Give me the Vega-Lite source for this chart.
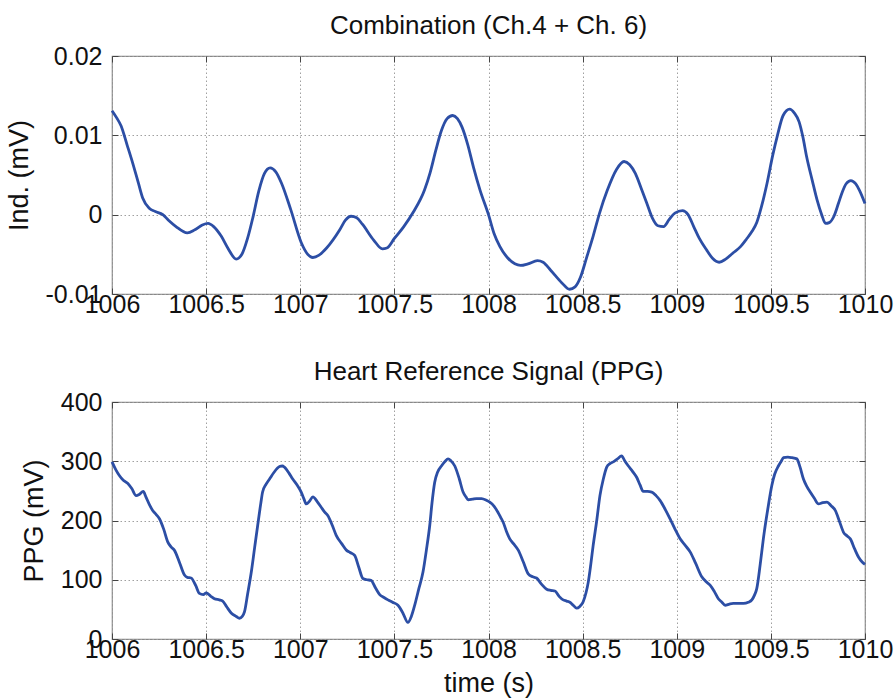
{
  "$schema": "https://vega.github.io/schema/vega-lite/v6.json",
  "background": "white",
  "padding": {"left": 4, "top": 12, "right": 3, "bottom": 3},
  "spacing": 40,
  "config": {
    "font": "Liberation Sans",
    "view": {"stroke": "#888888", "strokeWidth": 1.2},
    "axis": {
      "labelFont": "Liberation Sans", "labelFontSize": 25, "labelColor": "#111111",
      "titleFont": "Liberation Sans", "titleFontSize": 27, "titleFontWeight": "normal", "titleColor": "#111111",
      "grid": true, "gridColor": "#a0a0a0", "gridDash": [1.5, 2.5], "gridWidth": 1,
      "domain": false, "tickColor": "#444444", "tickSize": -6, "tickWidth": 1,
      "labelFlush": false, "labelOverlap": false
    },
    "axisX": {"labelPadding": 4, "titlePadding": 8},
    "axisY": {"labelPadding": 16, "titlePadding": 12},
    "title": {"font": "Liberation Sans", "fontSize": 26, "fontWeight": "normal", "color": "#111111", "baseline": "alphabetic", "offset": 5, "anchor": "middle", "frame": "group"}
  },
  "datasets": {
    "ind": [
      {"t": 1006.000, "v": 0.0131}, {"t": 1006.025, "v": 0.0122}, {"t": 1006.048, "v": 0.0112}, {"t": 1006.08, "v": 0.0088},
      {"t": 1006.11, "v": 0.0065}, {"t": 1006.14, "v": 0.0040}, {"t": 1006.163, "v": 0.0021}, {"t": 1006.198, "v": 0.0008},
      {"t": 1006.23, "v": 0.0004}, {"t": 1006.27, "v": 0.0000}, {"t": 1006.30, "v": -0.0007}, {"t": 1006.34, "v": -0.0015},
      {"t": 1006.40, "v": -0.0023}, {"t": 1006.44, "v": -0.0019}, {"t": 1006.48, "v": -0.0013}, {"t": 1006.51, "v": -0.0011},
      {"t": 1006.54, "v": -0.0015}, {"t": 1006.58, "v": -0.0027}, {"t": 1006.615, "v": -0.0042}, {"t": 1006.66, "v": -0.0056},
      {"t": 1006.69, "v": -0.0050}, {"t": 1006.72, "v": -0.0030}, {"t": 1006.748, "v": -0.0004}, {"t": 1006.78, "v": 0.0030},
      {"t": 1006.81, "v": 0.0052}, {"t": 1006.84, "v": 0.0059}, {"t": 1006.87, "v": 0.0054}, {"t": 1006.90, "v": 0.0040},
      {"t": 1006.95, "v": 0.0006}, {"t": 1007.005, "v": -0.0035}, {"t": 1007.04, "v": -0.0050}, {"t": 1007.067, "v": -0.0054},
      {"t": 1007.10, "v": -0.0051}, {"t": 1007.14, "v": -0.0042}, {"t": 1007.21, "v": -0.0019}, {"t": 1007.24, "v": -0.0007},
      {"t": 1007.27, "v": -0.0002}, {"t": 1007.30, "v": -0.0004}, {"t": 1007.33, "v": -0.0012}, {"t": 1007.39, "v": -0.0032},
      {"t": 1007.436, "v": -0.0043}, {"t": 1007.46, "v": -0.0042}, {"t": 1007.50, "v": -0.0030}, {"t": 1007.55, "v": -0.0015},
      {"t": 1007.60, "v": 0.0003}, {"t": 1007.66, "v": 0.0031}, {"t": 1007.69, "v": 0.0053}, {"t": 1007.72, "v": 0.0081},
      {"t": 1007.75, "v": 0.0106}, {"t": 1007.78, "v": 0.0121}, {"t": 1007.81, "v": 0.0125}, {"t": 1007.835, "v": 0.0121},
      {"t": 1007.86, "v": 0.0110}, {"t": 1007.89, "v": 0.0088}, {"t": 1007.92, "v": 0.0060}, {"t": 1007.955, "v": 0.0031},
      {"t": 1008.00, "v": 0.0000}, {"t": 1008.03, "v": -0.0024}, {"t": 1008.06, "v": -0.0040}, {"t": 1008.10, "v": -0.0054},
      {"t": 1008.14, "v": -0.0062}, {"t": 1008.17, "v": -0.0064}, {"t": 1008.21, "v": -0.0062}, {"t": 1008.26, "v": -0.0058},
      {"t": 1008.29, "v": -0.0060}, {"t": 1008.33, "v": -0.0070}, {"t": 1008.39, "v": -0.0086}, {"t": 1008.43, "v": -0.0094},
      {"t": 1008.46, "v": -0.0091}, {"t": 1008.49, "v": -0.0078}, {"t": 1008.52, "v": -0.0055}, {"t": 1008.556, "v": -0.0027},
      {"t": 1008.59, "v": 0.0002}, {"t": 1008.63, "v": 0.0030}, {"t": 1008.68, "v": 0.0057}, {"t": 1008.72, "v": 0.0067},
      {"t": 1008.75, "v": 0.0063}, {"t": 1008.78, "v": 0.0052}, {"t": 1008.81, "v": 0.0034}, {"t": 1008.84, "v": 0.0015},
      {"t": 1008.87, "v": -0.0004}, {"t": 1008.90, "v": -0.0014}, {"t": 1008.93, "v": -0.0015}, {"t": 1008.96, "v": -0.0006},
      {"t": 1008.99, "v": 0.0002}, {"t": 1009.03, "v": 0.0005}, {"t": 1009.06, "v": 0.0000}, {"t": 1009.09, "v": -0.0015},
      {"t": 1009.12, "v": -0.0030}, {"t": 1009.16, "v": -0.0045}, {"t": 1009.19, "v": -0.0055}, {"t": 1009.225, "v": -0.0060},
      {"t": 1009.26, "v": -0.0056}, {"t": 1009.30, "v": -0.0048}, {"t": 1009.34, "v": -0.0040}, {"t": 1009.37, "v": -0.0031},
      {"t": 1009.40, "v": -0.0021}, {"t": 1009.425, "v": -0.0010}, {"t": 1009.45, "v": 0.0010}, {"t": 1009.48, "v": 0.0040},
      {"t": 1009.51, "v": 0.0075}, {"t": 1009.535, "v": 0.0100}, {"t": 1009.565, "v": 0.0125}, {"t": 1009.60, "v": 0.0133},
      {"t": 1009.625, "v": 0.0128}, {"t": 1009.65, "v": 0.0117}, {"t": 1009.67, "v": 0.0098}, {"t": 1009.69, "v": 0.0073},
      {"t": 1009.72, "v": 0.0043}, {"t": 1009.745, "v": 0.0019}, {"t": 1009.77, "v": 0.0000}, {"t": 1009.79, "v": -0.0011},
      {"t": 1009.81, "v": -0.0010}, {"t": 1009.835, "v": -0.0002}, {"t": 1009.86, "v": 0.0015}, {"t": 1009.88, "v": 0.0029},
      {"t": 1009.90, "v": 0.0039}, {"t": 1009.925, "v": 0.0043}, {"t": 1009.95, "v": 0.0039}, {"t": 1009.97, "v": 0.0031},
      {"t": 1010.00, "v": 0.0014}
    ],
    "ppg": [
      {"t": 1006.000, "v": 299}, {"t": 1006.02, "v": 286}, {"t": 1006.039, "v": 276}, {"t": 1006.06, "v": 268},
      {"t": 1006.083, "v": 263}, {"t": 1006.105, "v": 254}, {"t": 1006.128, "v": 242}, {"t": 1006.145, "v": 244},
      {"t": 1006.166, "v": 249}, {"t": 1006.18, "v": 240}, {"t": 1006.2, "v": 226}, {"t": 1006.216, "v": 217},
      {"t": 1006.235, "v": 210}, {"t": 1006.252, "v": 203}, {"t": 1006.275, "v": 185}, {"t": 1006.296, "v": 164},
      {"t": 1006.315, "v": 155}, {"t": 1006.331, "v": 150}, {"t": 1006.36, "v": 128}, {"t": 1006.385, "v": 108},
      {"t": 1006.40, "v": 104}, {"t": 1006.42, "v": 103}, {"t": 1006.445, "v": 90}, {"t": 1006.464, "v": 77},
      {"t": 1006.485, "v": 75}, {"t": 1006.50, "v": 78}, {"t": 1006.525, "v": 72}, {"t": 1006.544, "v": 68},
      {"t": 1006.57, "v": 66}, {"t": 1006.588, "v": 64}, {"t": 1006.61, "v": 54}, {"t": 1006.633, "v": 44},
      {"t": 1006.66, "v": 38}, {"t": 1006.677, "v": 35}, {"t": 1006.692, "v": 38}, {"t": 1006.704, "v": 46},
      {"t": 1006.72, "v": 75}, {"t": 1006.74, "v": 113}, {"t": 1006.758, "v": 155}, {"t": 1006.774, "v": 192},
      {"t": 1006.79, "v": 228}, {"t": 1006.80, "v": 248}, {"t": 1006.818, "v": 261}, {"t": 1006.837, "v": 270},
      {"t": 1006.86, "v": 281}, {"t": 1006.89, "v": 291}, {"t": 1006.905, "v": 292}, {"t": 1006.916, "v": 290},
      {"t": 1006.94, "v": 280}, {"t": 1006.96, "v": 270}, {"t": 1006.985, "v": 259}, {"t": 1007.005, "v": 248},
      {"t": 1007.02, "v": 236}, {"t": 1007.032, "v": 228}, {"t": 1007.05, "v": 233}, {"t": 1007.067, "v": 240},
      {"t": 1007.09, "v": 232}, {"t": 1007.112, "v": 222}, {"t": 1007.13, "v": 214}, {"t": 1007.147, "v": 208},
      {"t": 1007.17, "v": 192}, {"t": 1007.191, "v": 175}, {"t": 1007.22, "v": 161}, {"t": 1007.245, "v": 150},
      {"t": 1007.265, "v": 146}, {"t": 1007.289, "v": 141}, {"t": 1007.31, "v": 122}, {"t": 1007.333, "v": 102},
      {"t": 1007.355, "v": 100}, {"t": 1007.376, "v": 99}, {"t": 1007.40, "v": 86}, {"t": 1007.422, "v": 75},
      {"t": 1007.445, "v": 70}, {"t": 1007.466, "v": 66}, {"t": 1007.49, "v": 62}, {"t": 1007.519, "v": 57},
      {"t": 1007.545, "v": 44}, {"t": 1007.572, "v": 28}, {"t": 1007.59, "v": 38}, {"t": 1007.608, "v": 57},
      {"t": 1007.63, "v": 85}, {"t": 1007.652, "v": 113}, {"t": 1007.67, "v": 150}, {"t": 1007.688, "v": 192},
      {"t": 1007.70, "v": 230}, {"t": 1007.714, "v": 264}, {"t": 1007.73, "v": 282}, {"t": 1007.75, "v": 292},
      {"t": 1007.77, "v": 300}, {"t": 1007.785, "v": 304}, {"t": 1007.80, "v": 301}, {"t": 1007.821, "v": 292},
      {"t": 1007.845, "v": 270}, {"t": 1007.865, "v": 248}, {"t": 1007.88, "v": 240}, {"t": 1007.892, "v": 235},
      {"t": 1007.915, "v": 236}, {"t": 1007.936, "v": 237}, {"t": 1007.963, "v": 237}, {"t": 1007.99, "v": 234},
      {"t": 1008.007, "v": 231}, {"t": 1008.03, "v": 224}, {"t": 1008.05, "v": 214}, {"t": 1008.065, "v": 205},
      {"t": 1008.078, "v": 197}, {"t": 1008.095, "v": 182}, {"t": 1008.113, "v": 169}, {"t": 1008.135, "v": 160},
      {"t": 1008.158, "v": 150}, {"t": 1008.185, "v": 130}, {"t": 1008.211, "v": 110}, {"t": 1008.235, "v": 105},
      {"t": 1008.255, "v": 103}, {"t": 1008.28, "v": 93}, {"t": 1008.309, "v": 84}, {"t": 1008.33, "v": 82},
      {"t": 1008.353, "v": 81}, {"t": 1008.375, "v": 72}, {"t": 1008.397, "v": 66}, {"t": 1008.415, "v": 64},
      {"t": 1008.432, "v": 62}, {"t": 1008.45, "v": 57}, {"t": 1008.468, "v": 52}, {"t": 1008.485, "v": 55},
      {"t": 1008.503, "v": 63}, {"t": 1008.518, "v": 78}, {"t": 1008.53, "v": 96}, {"t": 1008.543, "v": 125},
      {"t": 1008.556, "v": 158}, {"t": 1008.575, "v": 200}, {"t": 1008.592, "v": 242}, {"t": 1008.61, "v": 270},
      {"t": 1008.628, "v": 290}, {"t": 1008.645, "v": 296}, {"t": 1008.663, "v": 299}, {"t": 1008.685, "v": 304},
      {"t": 1008.707, "v": 309}, {"t": 1008.725, "v": 300}, {"t": 1008.743, "v": 292}, {"t": 1008.765, "v": 283},
      {"t": 1008.787, "v": 273}, {"t": 1008.805, "v": 260}, {"t": 1008.822, "v": 249}, {"t": 1008.845, "v": 249},
      {"t": 1008.867, "v": 248}, {"t": 1008.89, "v": 242}, {"t": 1008.911, "v": 234}, {"t": 1008.94, "v": 218},
      {"t": 1008.964, "v": 203}, {"t": 1008.99, "v": 186}, {"t": 1009.018, "v": 169}, {"t": 1009.045, "v": 158},
      {"t": 1009.071, "v": 147}, {"t": 1009.10, "v": 128}, {"t": 1009.133, "v": 105}, {"t": 1009.155, "v": 97},
      {"t": 1009.177, "v": 91}, {"t": 1009.20, "v": 80}, {"t": 1009.221, "v": 68}, {"t": 1009.24, "v": 62},
      {"t": 1009.257, "v": 57}, {"t": 1009.28, "v": 59}, {"t": 1009.30, "v": 60}, {"t": 1009.33, "v": 60},
      {"t": 1009.354, "v": 60}, {"t": 1009.38, "v": 62}, {"t": 1009.399, "v": 66}, {"t": 1009.413, "v": 74},
      {"t": 1009.425, "v": 85}, {"t": 1009.443, "v": 125}, {"t": 1009.46, "v": 169}, {"t": 1009.483, "v": 218},
      {"t": 1009.505, "v": 259}, {"t": 1009.52, "v": 278}, {"t": 1009.54, "v": 292}, {"t": 1009.555, "v": 300},
      {"t": 1009.567, "v": 306}, {"t": 1009.59, "v": 307}, {"t": 1009.612, "v": 306}, {"t": 1009.638, "v": 304},
      {"t": 1009.655, "v": 290}, {"t": 1009.673, "v": 270}, {"t": 1009.69, "v": 258}, {"t": 1009.709, "v": 248},
      {"t": 1009.73, "v": 238}, {"t": 1009.753, "v": 228}, {"t": 1009.775, "v": 230}, {"t": 1009.798, "v": 231},
      {"t": 1009.82, "v": 225}, {"t": 1009.842, "v": 217}, {"t": 1009.865, "v": 198}, {"t": 1009.886, "v": 180},
      {"t": 1009.905, "v": 174}, {"t": 1009.922, "v": 169}, {"t": 1009.945, "v": 152}, {"t": 1009.966, "v": 138},
      {"t": 1009.985, "v": 130}, {"t": 1010.000, "v": 126}
    ]
  },
  "vconcat": [
    {
      "width": 753, "height": 238,
      "title": "Combination (Ch.4 + Ch. 6)",
      "data": {"name": "ind"},
      "resolve": {"axis": {"x": "independent", "y": "independent"}},
      "layer": [
        {
          "mark": {"type": "line", "interpolate": "monotone", "color": "#2c4ea5", "strokeWidth": 2.8},
          "encoding": {
            "x": {"field": "t", "type": "quantitative",
                  "scale": {"domain": [1006, 1010], "nice": false, "zero": false},
                  "axis": {"title": null, "values": [1006, 1006.5, 1007, 1007.5, 1008, 1008.5, 1009, 1009.5, 1010], "labelExpr": "datum.value + ''"}},
            "y": {"field": "v", "type": "quantitative",
                  "scale": {"domain": [-0.01, 0.02], "nice": false, "zero": false},
                  "axis": {"title": "Ind. (mV)", "values": [-0.01, 0, 0.01, 0.02], "labelExpr": "datum.value + ''"}}
          }
        },
        {
          "mark": {"type": "line", "opacity": 0},
          "encoding": {
            "x": {"field": "t", "type": "quantitative",
                  "axis": {"orient": "top", "title": null, "labels": false, "grid": false, "values": [1006, 1006.5, 1007, 1007.5, 1008, 1008.5, 1009, 1009.5, 1010]}},
            "y": {"field": "v", "type": "quantitative",
                  "axis": {"orient": "right", "title": null, "labels": false, "grid": false, "values": [-0.01, 0, 0.01, 0.02]}}
          }
        }
      ]
    },
    {
      "width": 753, "height": 237,
      "title": "Heart Reference Signal (PPG)",
      "data": {"name": "ppg"},
      "resolve": {"axis": {"x": "independent", "y": "independent"}},
      "layer": [
        {
          "mark": {"type": "line", "interpolate": "monotone", "color": "#2c4ea5", "strokeWidth": 2.8},
          "encoding": {
            "x": {"field": "t", "type": "quantitative",
                  "scale": {"domain": [1006, 1010], "nice": false, "zero": false},
                  "axis": {"title": "time (s)", "values": [1006, 1006.5, 1007, 1007.5, 1008, 1008.5, 1009, 1009.5, 1010], "labelExpr": "datum.value + ''"}},
            "y": {"field": "v", "type": "quantitative",
                  "scale": {"domain": [0, 400], "nice": false, "zero": false},
                  "axis": {"title": "PPG (mV)", "values": [0, 100, 200, 300, 400], "labelExpr": "datum.value + ''"}}
          }
        },
        {
          "mark": {"type": "line", "opacity": 0},
          "encoding": {
            "x": {"field": "t", "type": "quantitative",
                  "axis": {"orient": "top", "title": null, "labels": false, "grid": false, "values": [1006, 1006.5, 1007, 1007.5, 1008, 1008.5, 1009, 1009.5, 1010]}},
            "y": {"field": "v", "type": "quantitative",
                  "axis": {"orient": "right", "title": null, "labels": false, "grid": false, "values": [0, 100, 200, 300, 400]}}
          }
        }
      ]
    }
  ]
}
